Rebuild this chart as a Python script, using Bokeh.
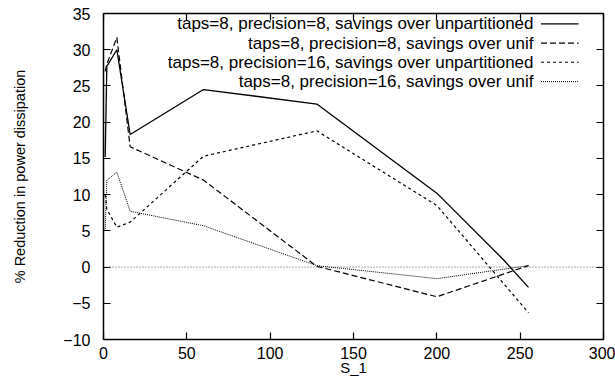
from bokeh.plotting import figure
from bokeh.models import (Range1d, FixedTicker, LinearAxis, Span, Label, Arrow)
from bokeh.embed import file_html
from bokeh.resources import INLINE

# ---- data ----
x_s1 = [1, 2, 8, 16, 60, 128, 200, 240, 255]
y_s1 = [15.2, 27.7, 30.0, 18.3, 24.5, 22.5, 10.2, 1.0, -2.8]

x_s2 = [1, 2, 8, 16, 60, 128, 200, 255]
y_s2 = [27.0, 28.0, 31.7, 16.6, 12.0, 0.1, -4.1, 0.2]

x_s3 = [1, 2, 8, 16, 60, 128, 200, 255]
y_s3 = [10.0, 8.0, 5.5, 6.2, 15.3, 18.8, 8.5, -6.3]

x_s4 = [1, 2, 8, 16, 60, 128, 200, 255]
y_s4 = [5.0, 12.0, 13.1, 7.7, 5.7, 0.2, -1.6, 0.2]

series_labels = [
    "taps=8, precision=8, savings over unpartitioned",
    "taps=8, precision=8, savings over unif",
    "taps=8, precision=16, savings over unpartitioned",
    "taps=8, precision=16, savings over unif",
]
x_ticks = [0, 50, 100, 150, 200, 250, 300]
y_ticks = [-10, -5, 0, 5, 10, 15, 20, 25, 30, 35]
x_label = "S_1"
y_label = "% Reduction in power dissipation"

FONT = "Liberation Sans"

p = figure(width=615, height=381, output_backend="svg", toolbar_location=None,
           x_range=Range1d(0, 300), y_range=Range1d(-10, 35),
           min_border_left=103, min_border_right=12, min_border_top=13,
           min_border_bottom=42)
p.grid.visible = False
p.background_fill_color = "white"
p.border_fill_color = "white"
p.outline_line_color = "black"
p.outline_line_width = 1.5

# bottom axis
xa = p.xaxis[0]
xa.ticker = FixedTicker(ticks=x_ticks)
xa.axis_label = x_label
# left axis
ya = p.yaxis[0]
ya.ticker = FixedTicker(ticks=y_ticks)
ya.axis_label = y_label

for ax in (xa, ya):
    ax.axis_line_color = None
    ax.major_tick_in = 7
    ax.major_tick_out = 0
    ax.minor_tick_in = 0
    ax.minor_tick_out = 0
    ax.major_tick_line_color = "black"
    ax.major_tick_line_width = 1.2
    ax.major_label_text_font = FONT
    ax.major_label_text_font_size = "16px"
    ax.major_label_text_color = "black"
    ax.axis_label_text_font = FONT
    ax.axis_label_text_font_style = "normal"
    ax.axis_label_text_font_size = "16px"
    ax.axis_label_text_color = "black"

xa.major_label_standoff = 7
xa.axis_label_standoff = -3
xa.axis_label_text_font_size = "15px"
ya.major_label_standoff = 13
ya.axis_label_standoff = 32
ya.axis_label_text_font_size = "14.5px"

# mirrored ticks on top and right (no labels)
top = LinearAxis(ticker=FixedTicker(ticks=x_ticks),
                 major_label_overrides={t: "" for t in x_ticks})
right = LinearAxis(ticker=FixedTicker(ticks=y_ticks),
                   major_label_overrides={t: "" for t in y_ticks})
for ax in (top, right):
    ax.axis_line_color = None
    ax.major_tick_in = 7
    ax.major_tick_out = 0
    ax.minor_tick_in = 0
    ax.minor_tick_out = 0
    ax.major_tick_line_color = "black"
    ax.major_tick_line_width = 1.2
    ax.major_label_standoff = 0
p.add_layout(top, "above")
p.add_layout(right, "right")

# zero axis
p.add_layout(Span(location=0, dimension="width", line_color="#555555",
                  line_width=1, line_dash="1 2"))

styles = [
    dict(line_dash="solid", line_width=1.3),
    dict(line_dash="6 3", line_width=1.2),
    dict(line_dash="3 3", line_width=1.2),
    dict(line_dash="1 1", line_width=1.0),
]
xs_all = [x_s1, x_s2, x_s3, x_s4]
ys_all = [y_s1, y_s2, y_s3, y_s4]
for xs, ys, st in zip(xs_all, ys_all, styles):
    p.line(xs, ys, line_color="black", **st)

# legend (text right-aligned, sample to the right), gnuplot style
leg_y = [33.57, 30.9, 28.27, 25.6]
for lab, ly, st in zip(series_labels, leg_y, styles):
    p.add_layout(Label(x=258, y=ly, text=lab, text_align="right",
                       text_baseline="middle", text_font=FONT,
                       text_font_size="17px", text_color="black"))
    p.add_layout(Arrow(x_start=262.5, y_start=ly, x_end=285, y_end=ly,
                       end=None, start=None, line_color="black", **st))

open("out.html", "w").write(file_html(p, INLINE))
